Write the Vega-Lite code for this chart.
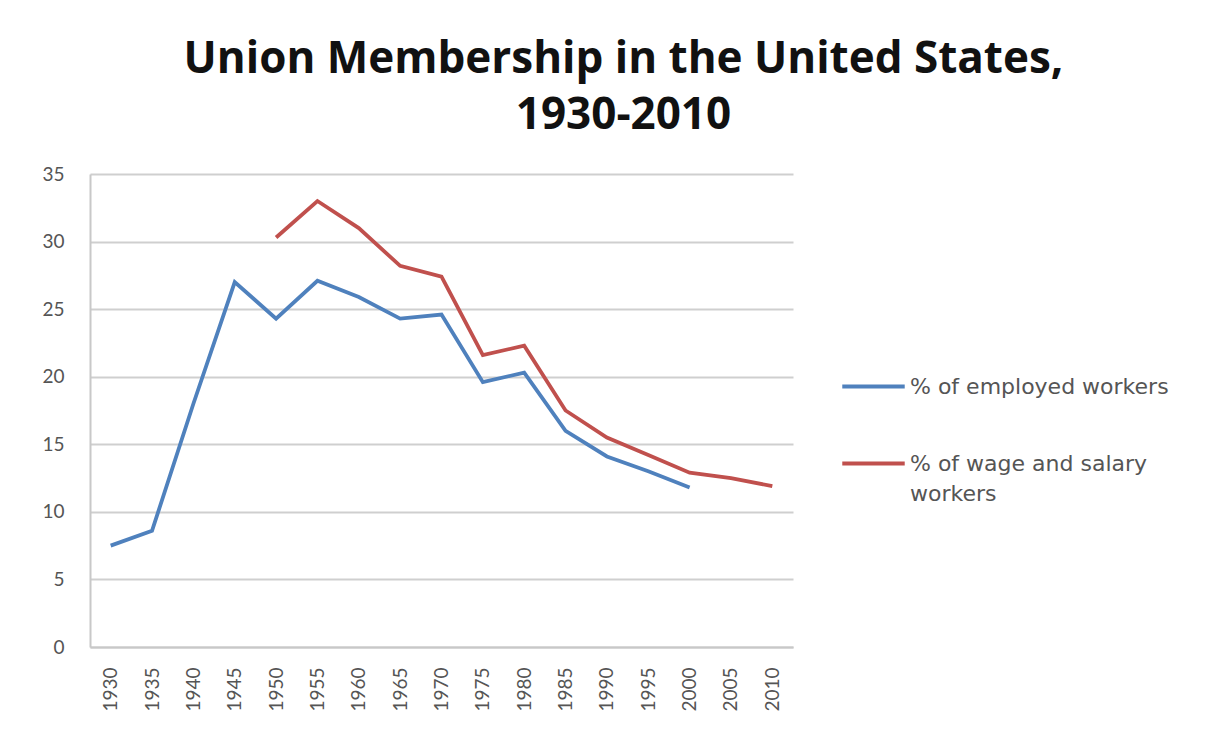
{
  "$schema": "https://vega.github.io/schema/vega-lite/v6.json",
  "autosize": "none",
  "width": 703,
  "height": 473,
  "padding": {"left": 90, "top": 174, "right": 420, "bottom": 83},
  "background": "white",
  "title": {
    "text": ["Union Membership in the United States,", "1930-2010"],
    "font": "Open Sans",
    "fontSize": 44,
    "fontWeight": "bold",
    "color": "#111111",
    "lineHeight": 56,
    "anchor": "middle",
    "frame": "bounds",
    "offset": 27,
    "dx": 18
  },
  "data": {
    "values": [
      {"Year": "1930", "Series": "% of employed workers", "Pct": 7.5},
      {"Year": "1935", "Series": "% of employed workers", "Pct": 8.6},
      {"Year": "1940", "Series": "% of employed workers", "Pct": 18.0},
      {"Year": "1945", "Series": "% of employed workers", "Pct": 27.0},
      {"Year": "1950", "Series": "% of employed workers", "Pct": 24.3},
      {"Year": "1955", "Series": "% of employed workers", "Pct": 27.1},
      {"Year": "1960", "Series": "% of employed workers", "Pct": 25.9},
      {"Year": "1965", "Series": "% of employed workers", "Pct": 24.3},
      {"Year": "1970", "Series": "% of employed workers", "Pct": 24.6},
      {"Year": "1975", "Series": "% of employed workers", "Pct": 19.6},
      {"Year": "1980", "Series": "% of employed workers", "Pct": 20.3},
      {"Year": "1985", "Series": "% of employed workers", "Pct": 16.0},
      {"Year": "1990", "Series": "% of employed workers", "Pct": 14.1},
      {"Year": "1995", "Series": "% of employed workers", "Pct": 13.0},
      {"Year": "2000", "Series": "% of employed workers", "Pct": 11.8},
      {"Year": "1950", "Series": "% of wage and salary workers", "Pct": 30.3},
      {"Year": "1955", "Series": "% of wage and salary workers", "Pct": 33.0},
      {"Year": "1960", "Series": "% of wage and salary workers", "Pct": 31.0},
      {"Year": "1965", "Series": "% of wage and salary workers", "Pct": 28.2},
      {"Year": "1970", "Series": "% of wage and salary workers", "Pct": 27.4},
      {"Year": "1975", "Series": "% of wage and salary workers", "Pct": 21.6},
      {"Year": "1980", "Series": "% of wage and salary workers", "Pct": 22.3},
      {"Year": "1985", "Series": "% of wage and salary workers", "Pct": 17.5},
      {"Year": "1990", "Series": "% of wage and salary workers", "Pct": 15.5},
      {"Year": "1995", "Series": "% of wage and salary workers", "Pct": 14.2},
      {"Year": "2000", "Series": "% of wage and salary workers", "Pct": 12.9},
      {"Year": "2005", "Series": "% of wage and salary workers", "Pct": 12.5},
      {"Year": "2010", "Series": "% of wage and salary workers", "Pct": 11.9}
    ]
  },
  "mark": {"type": "line", "strokeWidth": 3.8, "strokeJoin": "miter"},
  "encoding": {
    "x": {
      "field": "Year",
      "type": "ordinal",
      "scale": {
        "type": "point",
        "padding": 0.5,
        "domain": ["1930","1935","1940","1945","1950","1955","1960","1965","1970","1975","1980","1985","1990","1995","2000","2005","2010"]
      },
      "axis": {
        "title": null,
        "labelAngle": -90,
        "labelFont": "Lato",
        "labelFontSize": 19,
        "labelColor": "#555555",
        "labelPadding": 20,
        "ticks": false,
        "domainColor": "#c8c8c8",
        "domainWidth": 2,
        "grid": false
      }
    },
    "y": {
      "field": "Pct",
      "type": "quantitative",
      "scale": {"domain": [0, 35], "nice": false},
      "axis": {
        "title": null,
        "values": [0, 5, 10, 15, 20, 25, 30, 35],
        "labelFont": "Lato",
        "labelFontSize": 19,
        "labelColor": "#555555",
        "labelPadding": 26,
        "ticks": false,
        "domainColor": "#c8c8c8",
        "domainWidth": 2,
        "grid": true,
        "gridColor": "#cfcfcf",
        "gridWidth": 2
      }
    },
    "color": {
      "field": "Series",
      "type": "nominal",
      "scale": {
        "domain": ["% of employed workers", "% of wage and salary workers"],
        "range": ["#4f81bd", "#c0504d"]
      },
      "legend": {
        "title": null,
        "orient": "none",
        "legendX": 750,
        "legendY": 179,
        "symbolType": "stroke",
        "symbolSize": 3900,
        "symbolStrokeWidth": 3.8,
        "labelFont": "DejaVu Sans",
        "labelFontSize": 22,
        "labelColor": "#555555",
        "labelOffset": 3,
        "labelLimit": 400,
        "rowPadding": 32,
        "labelExpr": "datum.label == '% of wage and salary workers' ? ['% of wage and salary', 'workers'] : datum.label",
        "encode": {"labels": {"update": {"lineHeight": {"value": 30}}}}
      }
    }
  },
  "config": {"view": {"stroke": null}}
}
